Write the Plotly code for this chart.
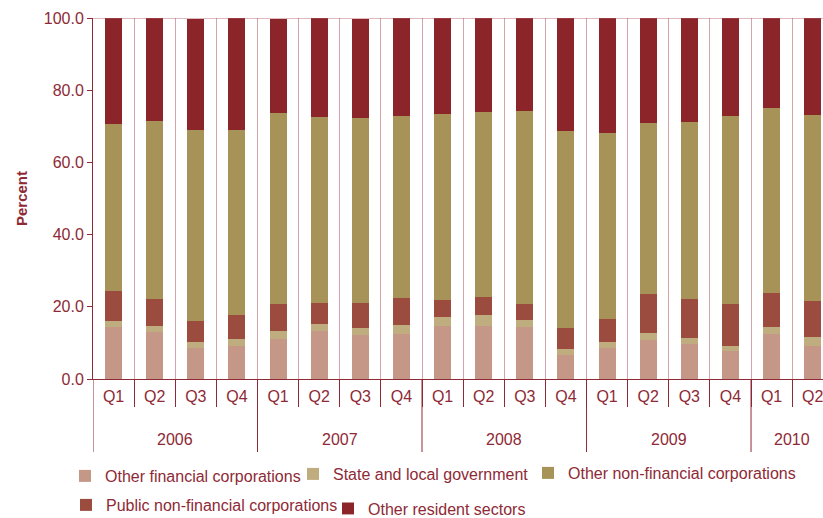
import plotly.graph_objects as go

# Quarterly share of deposits by sector, percent
years = ["2006", "2007", "2008", "2009", "2010"]
quarters_per_year = [4, 4, 4, 4, 2]
quarter_labels = ["Q1", "Q2", "Q3", "Q4"] * 4 + ["Q1", "Q2"]

other_financial = [14.4, 13.0, 8.6, 9.1, 11.1, 13.3, 12.2, 12.5, 14.7, 14.7, 14.4, 6.6,
                   8.6, 10.8, 9.7, 7.7, 12.5, 9.1]
state_local_gov = [1.7, 1.7, 1.6, 2.0, 2.2, 1.9, 1.9, 2.5, 2.5, 3.0, 1.9, 1.7,
                   1.6, 1.9, 1.6, 1.4, 1.9, 2.5]
public_nonfin = [8.3, 7.4, 5.9, 6.6, 7.5, 5.8, 6.9, 7.4, 4.7, 5.0, 4.5, 5.8,
                 6.4, 10.8, 10.8, 11.7, 9.4, 10.0]
other_nonfin = [46.2, 49.3, 52.8, 51.2, 52.8, 51.5, 51.2, 50.4, 51.4, 51.2, 53.4, 54.5,
                51.5, 47.4, 49.0, 52.0, 51.2, 51.5]
other_resident = [29.4, 28.6, 30.7, 31.1, 26.0, 27.5, 27.4, 27.2, 26.7, 26.1, 25.8, 31.4,
                  31.9, 29.1, 28.9, 27.2, 25.0, 26.9]

TEXT = "#8e2a36"
AXIS = "#8e2a36"
GRID = "rgba(175, 90, 100, 0.55)"
FONT = "Liberation Sans, Arial, sans-serif"

W, H = 823, 518
x = list(range(len(quarter_labels)))

# stacking order (bottom to top): name, values, colour, legend key, legend position (px)
series = [
    ("Other financial corporations", other_financial, "#c59787", "legend", (65, 476)),
    ("State and local government", state_local_gov, "#bfad80", "legend2", (293, 474)),
    ("Public non-financial corporations", public_nonfin, "#9c4b3f", "legend3", (66, 505)),
    ("Other non-financial corporations", other_nonfin, "#a79257", "legend4", (528, 473)),
    ("Other resident sectors", other_resident, "#8b2529", "legend5", (328, 508.5)),
]

fig = go.Figure()
legends = {}
for name, vals, color, leg, (lx, ly) in series:
    fig.add_trace(go.Bar(x=x, y=vals, name=name, marker_color=color,
                         marker_line_width=0, legend=leg, showlegend=True))
    legends[leg] = dict(orientation="h", xref="container", yref="container",
                        x=lx / W, y=1 - ly / H, xanchor="left", yanchor="middle",
                        bgcolor="rgba(0,0,0,0)", visible=True,
                        font=dict(size=16, color=TEXT, family=FONT))

# year group boundaries and centres along the quarter axis
bounds = [-0.5]
for n in quarters_per_year:
    bounds.append(bounds[-1] + n)
centres = [(bounds[i] + bounds[i + 1]) / 2 for i in range(len(years))]

plot_h = H - 18 - 139
for b in bounds[:-1]:
    fig.add_shape(type="line", xref="x", yref="paper", x0=b, x1=b,
                  y0=0, y1=-73 / plot_h, line=dict(color=AXIS, width=1))
for yr, c in zip(years, centres):
    fig.add_annotation(x=c, xref="x", y=-60.5 / plot_h, yref="paper", text=yr,
                       showarrow=False, yanchor="middle",
                       font=dict(size=16, color=TEXT, family=FONT))

# light frame line along the top of the plot area
fig.add_shape(type="line", xref="paper", yref="y", x0=0, x1=1, y0=100, y1=100,
              line=dict(color=GRID, width=1.5))

fig.update_layout(
    width=W, height=H, showlegend=True,
    margin=dict(l=93, r=0, t=18, b=139),
    barmode="stack", bargap=0.585,
    plot_bgcolor="white", paper_bgcolor="white",
    font=dict(family=FONT, size=16, color=TEXT),
    xaxis=dict(
        range=[-0.5, 17.25],
        tickmode="array", tickvals=x, ticktext=quarter_labels,
        ticks="", showgrid=False, zeroline=False,
        showline=True, linecolor=AXIS, linewidth=1,
        ticklabeloverflow="allow", ticklabelstandoff=3,
        tickfont=dict(size=16, color=TEXT),
        minor=dict(tickmode="array",
                   tickvals=[i + 0.5 for i in range(17)],
                   ticks="outside", ticklen=27, tickcolor=AXIS, tickwidth=1,
                   showgrid=True, gridcolor=GRID, gridwidth=1),
    ),
    yaxis=dict(
        range=[0, 100], tickmode="array", tickvals=[0, 20, 40, 60, 80, 100],
        tickformat=".1f", ticks="outside", ticklen=5, tickcolor=AXIS,
        showline=True, linecolor=AXIS, linewidth=1,
        showgrid=False, zeroline=False,
        tickfont=dict(size=16, color=TEXT),
        title=dict(text="<b>Percent</b>", font=dict(size=15, color=TEXT), standoff=12),
    ),
)
fig.update_layout(**legends)

fig.write_html("out.html")
